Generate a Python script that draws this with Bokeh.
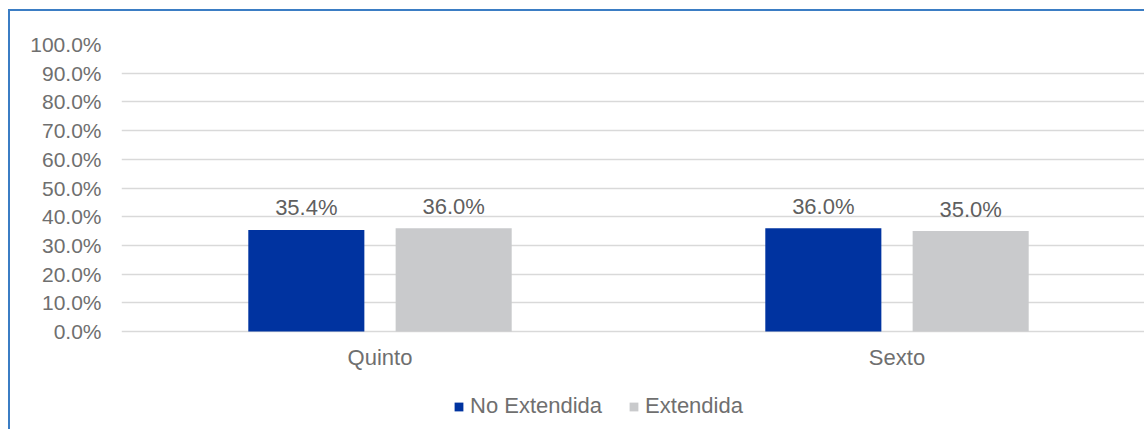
from bokeh.plotting import figure
from bokeh.models import (ColumnDataSource, Range1d, FixedTicker, PrintfTickFormatter,
                          Legend, LegendItem)
from bokeh.embed import file_html
from bokeh.resources import INLINE
from bokeh.core.properties import value

categories = ["Quinto", "Sexto"]
series_names = ["No Extendida", "Extendida"]
no_extendida = [35.4, 36.0]
extendida = [36.0, 35.0]
y_ticks = [0, 10, 20, 30, 40, 50, 60, 70, 80, 90, 100]

colors = ["#0033a0", "#c9cacc"]
FONT = "Liberation Sans"
AXIS_TXT = "#6f6f6f"
LABEL_TXT = "#5f5f5f"
FS_TICK = "21px"
FS = "22px"

W, H = 1136, 420
PX_PER_UNIT = 2.87          # vertical pixels per percentage point
BOTTOM_SPACE = 100          # room under the 0% line for category labels and legend
p = figure(width=W, height=H, output_backend="svg", toolbar_location=None,
           x_axis_type=None,
           min_border_left=111, min_border_right=0, min_border_top=33, min_border_bottom=0,
           x_range=Range1d(0, 1025 / 517),
           y_range=Range1d(-BOTTOM_SPACE / PX_PER_UNIT, 100),
           styles={"margin-left": "8px", "margin-top": "9px",
                   "border-left": "2px solid #3b7dc4", "border-top": "2px solid #3b7dc4"})
p.outline_line_color = None
p.background_fill_color = "white"
p.border_fill_color = "white"

centers = [i + 0.5 for i in range(len(categories))]
bar_w = 0.2245
offset = 0.1425
renderers = []
for k, (vals, col) in enumerate([(no_extendida, colors[0]), (extendida, colors[1])]):
    xs = [c + (-offset if k == 0 else offset) for c in centers]
    src = ColumnDataSource(dict(x=xs, top=vals, lab=[f"{v:.1f}%" for v in vals]))
    r = p.vbar(x="x", top="top", width=bar_w, bottom=0, source=src, fill_color=col, line_color=None)
    renderers.append(r)
    p.text(x="x", y="top", text="lab", source=src, text_align="center", text_baseline="middle",
           y_offset=-22, text_font=value(FONT), text_font_size=FS, text_color=LABEL_TXT)

# category labels under the 0% line
cat_src = ColumnDataSource(dict(x=centers, y=[0] * len(centers), t=categories))
p.text(x="x", y="y", text="t", source=cat_src, text_align="center", text_baseline="middle",
       y_offset=26, text_font=value(FONT), text_font_size=FS, text_color=AXIS_TXT)

# y axis
p.yaxis.ticker = FixedTicker(ticks=y_ticks)
p.yaxis.formatter = PrintfTickFormatter(format="%.1f%%")
p.yaxis.axis_line_color = None
p.yaxis.major_tick_line_color = None
p.yaxis.minor_tick_line_color = None
p.yaxis.major_label_standoff = 14
p.yaxis.major_label_text_font = FONT
p.yaxis.major_label_text_font_size = FS_TICK
p.yaxis.major_label_text_color = AXIS_TXT

p.ygrid.ticker = FixedTicker(ticks=y_ticks)
p.ygrid.grid_line_color = "#d9d9d9"
p.ygrid.grid_line_width = 1.5

legend = Legend(items=[LegendItem(label=n, renderers=[r]) for n, r in zip(series_names, renderers)],
                orientation="horizontal", location=(332, 12), margin=0, padding=0,
                spacing=26, label_standoff=6, glyph_width=11, glyph_height=11,
                border_line_color=None, background_fill_alpha=0,
                label_text_font=FONT, label_text_font_size=FS, label_text_color=AXIS_TXT)
p.add_layout(legend, "center")

open("out.html", "w").write(file_html(p, INLINE))
